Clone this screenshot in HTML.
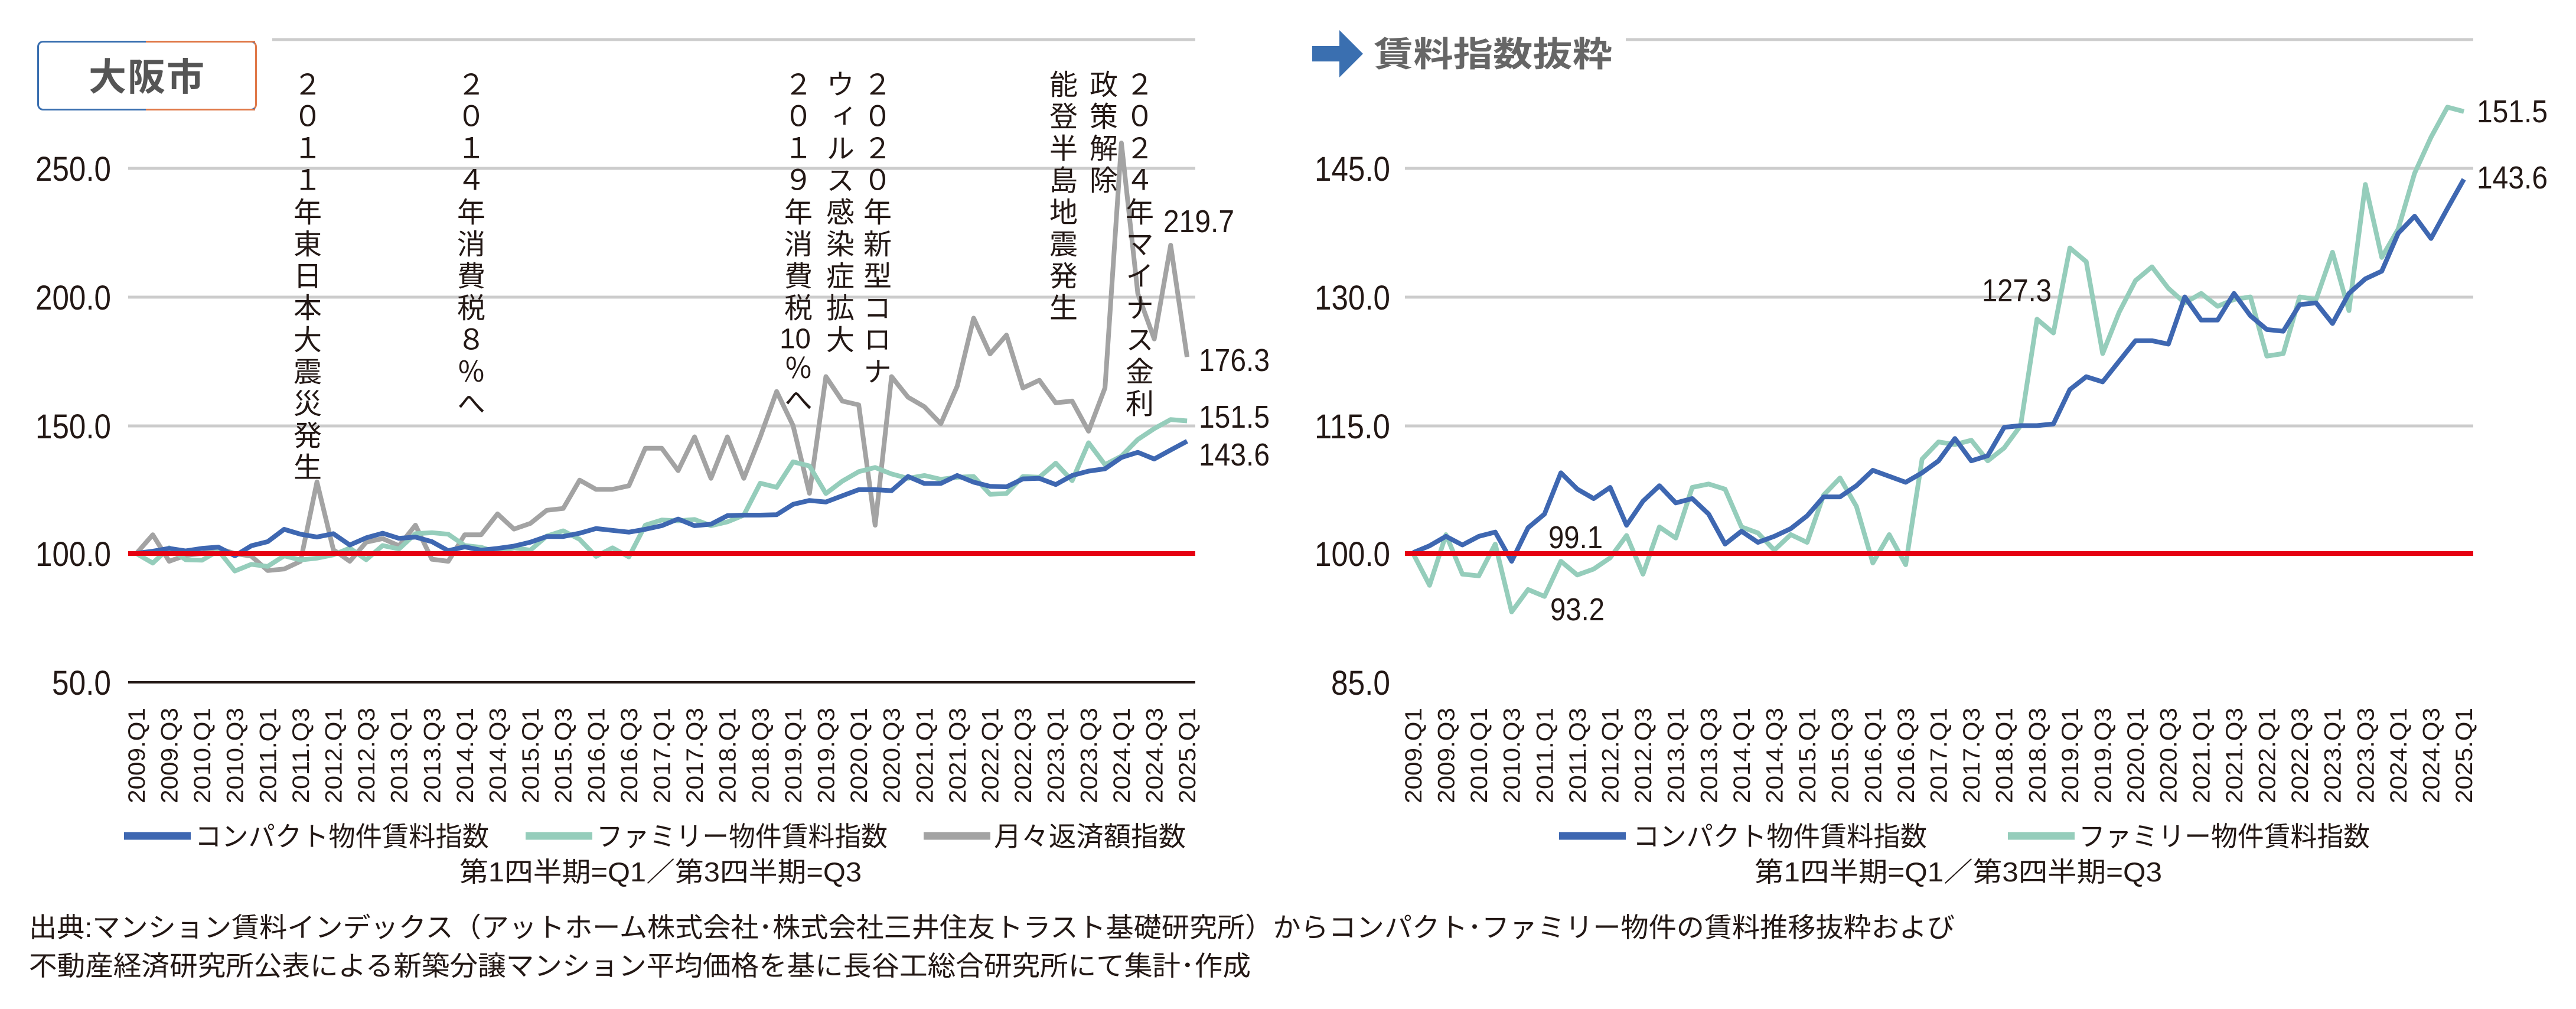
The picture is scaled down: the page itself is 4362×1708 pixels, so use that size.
<!DOCTYPE html>
<html><head><meta charset="utf-8">
<style>
body{margin:0;background:#fff;}
#w{position:relative;width:4362px;height:1708px;overflow:hidden;font-family:"Liberation Sans","Noto Sans CJK JP",sans-serif;color:#231815;}
.v{position:absolute;writing-mode:vertical-rl;text-orientation:upright;font-size:48px;line-height:50px;width:50px;letter-spacing:6px;color:#231815;}
.tcu{text-combine-upright:all;}
.t{position:absolute;white-space:nowrap;}
</style></head><body><div id="w">
<svg id="s" width="4362" height="1708" viewBox="0 0 4362 1708" style="position:absolute;left:0;top:0" font-family="Liberation Sans, Noto Sans CJK JP, sans-serif"></svg>

<div class="t" style="left:63px;top:69px;width:366px;height:112px;border:3px solid #3a6fb0;border-right-color:#e07848;border-radius:10px;"></div>
<div class="t" style="left:247px;top:69px;width:185px;height:112px;border-top:3px solid #e07848;border-bottom:3px solid #e07848;"></div>
<div class="t" style="left:63px;top:80px;width:372px;text-align:center;font-size:64px;font-weight:bold;color:#555;letter-spacing:2px;">大阪市</div>

<div class="v" style="left:490px;top:118px;">２０１１年東日本大震災発生</div>
<div class="v" style="left:767px;top:118px;">２０１４年消費税８％へ</div>
<div class="v" style="left:1321px;top:118px;">２０１９年消費税<span class="tcu">10</span>％へ</div>
<div class="v" style="left:1392px;top:118px;">ウィルス感染症拡大</div>
<div class="v" style="left:1455px;top:118px;">２０２０年新型コロナ</div>
<div class="v" style="left:1770px;top:118px;">能登半島地震発生</div>
<div class="v" style="left:1838px;top:118px;">政策解除</div>
<div class="v" style="left:1899px;top:118px;">２０２４年マイナス金利</div>

<script>
var C=[100.1,100.9,102,101,102,102.5,99.1,103,104.6,109.4,107.5,106.4,107.7,103.3,106.1,107.9,105.9,106.4,104.6,101.1,102.6,101.3,102,102.9,104.4,106.6,106.6,107.9,109.7,109,108.3,109.4,110.8,113.4,110.8,111.4,114.7,114.9,114.9,115.1,119.1,120.6,120,122.4,124.8,124.8,124.4,129.9,127.2,127.2,130.3,127.7,126.1,125.9,129,129.2,126.8,130.3,132,132.9,137.3,139.3,136.7,140.2,143.6];
var F=[100,96.3,102.2,97.6,97.4,101.1,93.2,95.8,95,99.1,97.5,98.2,99.5,102.1,97.6,103.1,101.8,107.7,108.1,107.5,103.1,102.4,100.4,102.2,101.3,106.8,108.8,105.5,98.9,102.2,98.7,111,113,112.7,113.2,110.8,112.3,114.9,127.3,125.7,135.6,134,123.3,128.1,131.8,133.4,130.9,129.2,130.3,128.8,129.6,129.9,123,123.3,129.9,129.6,135.1,128.3,143,134.5,137.8,144.3,148.5,152,151.5];
var G=[100,107.3,97,99.3,100,102,100,99,93.4,94,97,127.8,101.5,97,104.4,105.8,103,111,97.8,97,107.3,107.3,115.4,109.5,111.7,116.8,117.5,128.5,124.9,124.9,126.3,140.9,140.9,132.2,145.3,129.2,145.3,129.2,145.3,162.9,149.7,123.4,168.7,159.2,157.7,111,168.7,160.7,157,150.4,165,191.4,177.5,184.8,164.3,167.3,158.5,159.2,147.5,164.3,259.4,200.9,183.3,219.7,176.3];
var s='';
function line(x1,y1,x2,y2,c,w){s+='<line x1="'+x1+'" y1="'+y1+'" x2="'+x2+'" y2="'+y2+'" stroke="'+c+'" stroke-width="'+w+'"/>';}
function txt(x,y,t,fs,anc,ex){s+='<text x="'+x+'" y="'+y+'" font-size="'+fs+'" text-anchor="'+(anc||'start')+'" fill="#231815" '+(ex||'')+'>'+t+'</text>';}
function poly(d,x0,k,c){var p=[];for(var i=0;i<d.length;i++){p.push((x0+13.9+27.8*i).toFixed(1)+','+(937-(d[i]-100)*k).toFixed(1));}s+='<polyline points="'+p.join(' ')+'" fill="none" stroke="'+c+'" stroke-width="8" stroke-linejoin="round"/>';}
var BL='#3e67b1',GR='#95cdbb',GY='#a3a3a3',RD='#e60012';
line(461,67,2024,67,'#ccc',5);
[[250,285],[200,503],[150,721]].forEach(function(a){line(217,a[1],2024,a[1],'#ccc',5);txt(188,a[1]+21,a[0]+'.0',58,'end','textLength="128" lengthAdjust="spacingAndGlyphs"');});
txt(188,958,'100.0',58,'end','textLength="128" lengthAdjust="spacingAndGlyphs"');
txt(188,1176,'50.0',58,'end','textLength="100" lengthAdjust="spacingAndGlyphs"');
line(217,1155,2024,1155,'#231815',4);
poly(G,217,4.36,GY);poly(F,217,4.36,GR);poly(C,217,4.36,BL);
line(217,937,2024,937,RD,8);
txt(1970,393,'219.7',54,'start','textLength="120" lengthAdjust="spacingAndGlyphs"');
txt(2030,628,'176.3',54,'start','textLength="120" lengthAdjust="spacingAndGlyphs"');
txt(2030,724,'151.5',54,'start','textLength="120" lengthAdjust="spacingAndGlyphs"');
txt(2030,788,'143.6',54,'start','textLength="120" lengthAdjust="spacingAndGlyphs"');
line(2753,67,4188,67,'#ccc',5);
[[145,285],[130,503],[115,721]].forEach(function(a){line(2379,a[1],4188,a[1],'#ccc',5);txt(2354,a[1]+21,a[0]+'.0',58,'end','textLength="128" lengthAdjust="spacingAndGlyphs"');});
txt(2354,958,'100.0',58,'end','textLength="128" lengthAdjust="spacingAndGlyphs"');
txt(2354,1176,'85.0',58,'end','textLength="100" lengthAdjust="spacingAndGlyphs"');
poly(F,2379,14.53,GR);
poly(C,2379,14.53,BL);
line(2379,937,4188,937,RD,8);
txt(4194,207,'151.5',54,'start','textLength="120" lengthAdjust="spacingAndGlyphs"');
txt(4194,319,'143.6',54,'start','textLength="120" lengthAdjust="spacingAndGlyphs"');
txt(3356,510,'127.3',54,'start','textLength="118" lengthAdjust="spacingAndGlyphs"');
txt(2622,928,'99.1',54,'start','textLength="92" lengthAdjust="spacingAndGlyphs"');
txt(2625,1050,'93.2',54,'start','textLength="92" lengthAdjust="spacingAndGlyphs"');
function xl(x0){for(var i=0;i<65;i+=2){var yr=2009+Math.floor(i/4),q=(i%4==0)?'Q1':'Q3';var x=x0+13.9+27.8*i+14;s+='<text transform="translate('+x.toFixed(1)+',1198) rotate(-90)" font-size="40" text-anchor="end" fill="#231815" textLength="162" lengthAdjust="spacingAndGlyphs">'+yr+'.'+q+'</text>';}}
xl(217);xl(2379);
function leg(x,c,t,tx,tl){line(x,1415,x+113,1415,c,13);s+='<text x="'+tx+'" y="1432" font-size="46" fill="#231815" textLength="'+tl+'" lengthAdjust="spacingAndGlyphs">'+t+'</text>';}
leg(210,BL,'コンパクト物件賃料指数',330,498);
leg(890,GR,'ファミリー物件賃料指数',1010,493);
leg(1564,GY,'月々返済額指数',1683,325);
s+='<text x="778" y="1492" font-size="46" fill="#231815" textLength="681" lengthAdjust="spacingAndGlyphs">第1四半期=Q1／第3四半期=Q3</text>';
leg(2640,BL,'コンパクト物件賃料指数',2765,498);
leg(3400,GR,'ファミリー物件賃料指数',3520,493);
s+='<text x="2971" y="1492" font-size="46" fill="#231815" textLength="690" lengthAdjust="spacingAndGlyphs">第1四半期=Q1／第3四半期=Q3</text>';
s+='<text x="49" y="1586" font-size="46" fill="#231815" textLength="3261" lengthAdjust="spacingAndGlyphs">出典:マンション賃料インデックス（アットホーム株式会社･株式会社三井住友トラスト基礎研究所）からコンパクト･ファミリー物件の賃料推移抜粋および</text>';
s+='<text x="49" y="1651" font-size="46" fill="#231815" textLength="2069" lengthAdjust="spacingAndGlyphs">不動産経済研究所公表による新築分譲マンション平均価格を基に長谷工総合研究所にて集計･作成</text>';
s+='<polygon points="2222,80 2268,80 2268,51 2308,91 2268,131 2268,102 2222,102" fill="#3a6fb0"/>';
s+='<rect x="2222" y="78" width="46" height="26" fill="#3a6fb0"/>';
s+='<text x="2326" y="112" font-size="58" font-weight="bold" fill="#666" textLength="404" lengthAdjust="spacingAndGlyphs">賃料指数抜粋</text>';
document.getElementById('s').innerHTML=s;
</script>
</div></body></html>
